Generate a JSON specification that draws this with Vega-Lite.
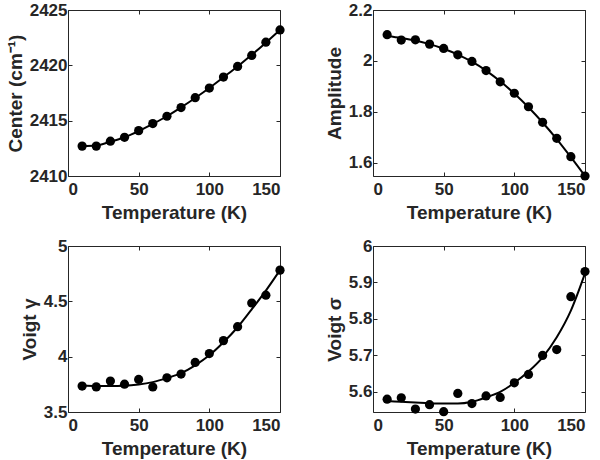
{
  "$schema": "https://vega.github.io/schema/vega-lite/v6.json",
  "background": "white",
  "padding": {"left": 5, "top": 0, "right": 5, "bottom": 0},
  "columns": 2,
  "bounds": "flush",
  "spacing": {"row": 70, "column": 93},
  "config": {
    "font": "Liberation Sans",
    "view": {"stroke": "#262626", "strokeWidth": 1},
    "axis": {
      "grid": false,
      "domain": false,
      "tickSize": -4,
      "tickColor": "#262626",
      "labelColor": "#262626",
      "titleColor": "#262626",
      "labelFont": "Liberation Sans",
      "titleFont": "Liberation Sans",
      "labelFontSize": 17,
      "titleFontSize": 19,
      "labelFontWeight": "bold",
      "titleFontWeight": "bold",
      "labelPadding": 5,
      "titlePadding": 4,
      "format": "~r"
    },
    "axisX": {"labelPadding": 9, "titlePadding": 6}
  },
  "datasets": {
    "center": [
      {"T": 10, "obs": 2412.7, "fit": 2412.7},
      {"T": 20, "obs": 2412.7, "fit": 2412.75},
      {"T": 30, "obs": 2413.15, "fit": 2413.1},
      {"T": 40, "obs": 2413.5, "fit": 2413.5},
      {"T": 50, "obs": 2414.1, "fit": 2414.05},
      {"T": 60, "obs": 2414.74, "fit": 2414.7},
      {"T": 70, "obs": 2415.4, "fit": 2415.4},
      {"T": 80, "obs": 2416.18, "fit": 2416.2},
      {"T": 90, "obs": 2417.08, "fit": 2417.05},
      {"T": 100, "obs": 2417.95, "fit": 2417.95},
      {"T": 110, "obs": 2418.94, "fit": 2418.92},
      {"T": 120, "obs": 2419.9, "fit": 2419.9},
      {"T": 130, "obs": 2420.89, "fit": 2420.95},
      {"T": 140, "obs": 2422.09, "fit": 2422.05},
      {"T": 150, "obs": 2423.2, "fit": 2423.2}
    ],
    "amplitude": [
      {"T": 10, "obs": 2.103, "fit": 2.098},
      {"T": 20, "obs": 2.082, "fit": 2.09},
      {"T": 30, "obs": 2.083, "fit": 2.08},
      {"T": 40, "obs": 2.066, "fit": 2.066},
      {"T": 50, "obs": 2.049, "fit": 2.048},
      {"T": 60, "obs": 2.024, "fit": 2.025},
      {"T": 70, "obs": 1.998, "fit": 1.997},
      {"T": 80, "obs": 1.962, "fit": 1.962},
      {"T": 90, "obs": 1.918, "fit": 1.92},
      {"T": 100, "obs": 1.873, "fit": 1.872},
      {"T": 110, "obs": 1.82, "fit": 1.818},
      {"T": 120, "obs": 1.759, "fit": 1.758},
      {"T": 130, "obs": 1.696, "fit": 1.693},
      {"T": 140, "obs": 1.624, "fit": 1.622},
      {"T": 150, "obs": 1.548, "fit": 1.548}
    ],
    "gamma": [
      {"T": 10, "obs": 3.734, "fit": 3.74},
      {"T": 20, "obs": 3.727, "fit": 3.736},
      {"T": 30, "obs": 3.78, "fit": 3.735},
      {"T": 40, "obs": 3.751, "fit": 3.737},
      {"T": 50, "obs": 3.794, "fit": 3.748},
      {"T": 60, "obs": 3.726, "fit": 3.77},
      {"T": 70, "obs": 3.809, "fit": 3.806},
      {"T": 80, "obs": 3.843, "fit": 3.851},
      {"T": 90, "obs": 3.948, "fit": 3.922},
      {"T": 100, "obs": 4.028, "fit": 4.012},
      {"T": 110, "obs": 4.145, "fit": 4.13},
      {"T": 120, "obs": 4.271, "fit": 4.266},
      {"T": 130, "obs": 4.485, "fit": 4.428},
      {"T": 140, "obs": 4.556, "fit": 4.597},
      {"T": 150, "obs": 4.782, "fit": 4.782}
    ],
    "sigma": [
      {"T": 10, "obs": 5.58, "fit": 5.575},
      {"T": 20, "obs": 5.584, "fit": 5.573},
      {"T": 30, "obs": 5.553, "fit": 5.571},
      {"T": 40, "obs": 5.565, "fit": 5.569},
      {"T": 50, "obs": 5.546, "fit": 5.568},
      {"T": 60, "obs": 5.596, "fit": 5.568},
      {"T": 70, "obs": 5.568, "fit": 5.573},
      {"T": 80, "obs": 5.589, "fit": 5.585},
      {"T": 90, "obs": 5.585, "fit": 5.6},
      {"T": 100, "obs": 5.625, "fit": 5.625},
      {"T": 110, "obs": 5.648, "fit": 5.656},
      {"T": 120, "obs": 5.7, "fit": 5.695},
      {"T": 130, "obs": 5.716, "fit": 5.75},
      {"T": 140, "obs": 5.861, "fit": 5.823},
      {"T": 150, "obs": 5.93, "fit": 5.925}
    ]
  },
  "concat": [
    {
      "width": 212, "height": 166,
      "data": {"name": "center"},
      "layer": [
        {
          "mark": {"type": "line", "color": "black", "strokeWidth": 2, "interpolate": "monotone"},
          "encoding": {
            "x": {"field": "T", "type": "quantitative", "scale": {"domain": [0, 150], "nice": false},
                  "axis": {"orient": "bottom", "values": [0, 50, 100, 150], "format": "d", "title": "Temperature (K)"}},
            "y": {"field": "fit", "type": "quantitative", "scale": {"domain": [2410, 2425], "nice": false, "zero": false},
                  "axis": {"orient": "left", "values": [2410, 2415, 2420, 2425], "format": "d", "title": "Center (cm⁻¹)"}}
          }
        },
        {
          "mark": {"type": "point", "filled": true, "color": "black", "size": 85, "opacity": 1},
          "encoding": {
            "x": {"field": "T", "type": "quantitative", "axis": null},
            "y": {"field": "obs", "type": "quantitative", "axis": null}
          }
        },
        {
          "mark": {"type": "point", "opacity": 0},
          "encoding": {
            "x": {"field": "T", "type": "quantitative", "axis": {"orient": "top", "values": [0, 50, 100, 150], "labels": false, "title": null}},
            "y": {"field": "obs", "type": "quantitative", "axis": {"orient": "right", "values": [2410, 2415, 2420, 2425], "labels": false, "title": null}}
          }
        }
      ],
      "resolve": {"axis": {"x": "independent", "y": "independent"}}
    },
    {
      "width": 212, "height": 166,
      "data": {"name": "amplitude"},
      "layer": [
        {
          "mark": {"type": "line", "color": "black", "strokeWidth": 2, "interpolate": "monotone"},
          "encoding": {
            "x": {"field": "T", "type": "quantitative", "scale": {"domain": [0, 150], "nice": false},
                  "axis": {"orient": "bottom", "values": [0, 50, 100, 150], "format": "d", "title": "Temperature (K)"}},
            "y": {"field": "fit", "type": "quantitative", "scale": {"domain": [1.548, 2.2], "nice": false, "zero": false},
                  "axis": {"orient": "left", "values": [1.6, 1.8, 2, 2.2], "title": "Amplitude"}}
          }
        },
        {
          "mark": {"type": "point", "filled": true, "color": "black", "size": 85, "opacity": 1},
          "encoding": {
            "x": {"field": "T", "type": "quantitative", "axis": null},
            "y": {"field": "obs", "type": "quantitative", "axis": null}
          }
        },
        {
          "mark": {"type": "point", "opacity": 0},
          "encoding": {
            "x": {"field": "T", "type": "quantitative", "axis": {"orient": "top", "values": [0, 50, 100, 150], "labels": false, "title": null}},
            "y": {"field": "obs", "type": "quantitative", "axis": {"orient": "right", "values": [1.6, 1.8, 2, 2.2], "labels": false, "title": null}}
          }
        }
      ],
      "resolve": {"axis": {"x": "independent", "y": "independent"}}
    },
    {
      "width": 212, "height": 166,
      "data": {"name": "gamma"},
      "layer": [
        {
          "mark": {"type": "line", "color": "black", "strokeWidth": 2, "interpolate": "monotone"},
          "encoding": {
            "x": {"field": "T", "type": "quantitative", "scale": {"domain": [0, 150], "nice": false},
                  "axis": {"orient": "bottom", "values": [0, 50, 100, 150], "format": "d", "title": "Temperature (K)"}},
            "y": {"field": "fit", "type": "quantitative", "scale": {"domain": [3.5, 5], "nice": false, "zero": false},
                  "axis": {"orient": "left", "values": [3.5, 4, 4.5, 5], "title": "Voigt γ"}}
          }
        },
        {
          "mark": {"type": "point", "filled": true, "color": "black", "size": 85, "opacity": 1},
          "encoding": {
            "x": {"field": "T", "type": "quantitative", "axis": null},
            "y": {"field": "obs", "type": "quantitative", "axis": null}
          }
        },
        {
          "mark": {"type": "point", "opacity": 0},
          "encoding": {
            "x": {"field": "T", "type": "quantitative", "axis": {"orient": "top", "values": [0, 50, 100, 150], "labels": false, "title": null}},
            "y": {"field": "obs", "type": "quantitative", "axis": {"orient": "right", "values": [3.5, 4, 4.5, 5], "labels": false, "title": null}}
          }
        }
      ],
      "resolve": {"axis": {"x": "independent", "y": "independent"}}
    },
    {
      "width": 212, "height": 166,
      "data": {"name": "sigma"},
      "layer": [
        {
          "mark": {"type": "line", "color": "black", "strokeWidth": 2, "interpolate": "monotone"},
          "encoding": {
            "x": {"field": "T", "type": "quantitative", "scale": {"domain": [0, 150], "nice": false},
                  "axis": {"orient": "bottom", "values": [0, 50, 100, 150], "format": "d", "title": "Temperature (K)"}},
            "y": {"field": "fit", "type": "quantitative", "scale": {"domain": [5.545, 6], "nice": false, "zero": false},
                  "axis": {"orient": "left", "values": [5.6, 5.7, 5.8, 5.9, 6], "title": "Voigt σ"}}
          }
        },
        {
          "mark": {"type": "point", "filled": true, "color": "black", "size": 85, "opacity": 1},
          "encoding": {
            "x": {"field": "T", "type": "quantitative", "axis": null},
            "y": {"field": "obs", "type": "quantitative", "axis": null}
          }
        },
        {
          "mark": {"type": "point", "opacity": 0},
          "encoding": {
            "x": {"field": "T", "type": "quantitative", "axis": {"orient": "top", "values": [0, 50, 100, 150], "labels": false, "title": null}},
            "y": {"field": "obs", "type": "quantitative", "axis": {"orient": "right", "values": [5.6, 5.7, 5.8, 5.9, 6], "labels": false, "title": null}}
          }
        }
      ],
      "resolve": {"axis": {"x": "independent", "y": "independent"}}
    }
  ]
}
